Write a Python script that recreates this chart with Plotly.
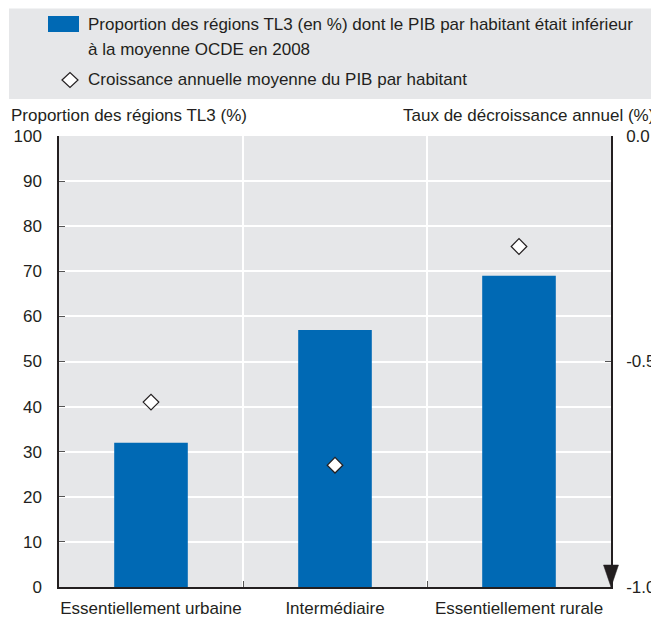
import plotly.graph_objects as go

categories = ["Essentiellement urbaine", "Intermédiaire", "Essentiellement rurale"]
share_below_avg = [32, 57, 69]          # % of TL3 regions, left axis
gdp_growth = [-0.59, -0.73, -0.245]     # annual avg GDP per capita growth (%), right axis
left_ticks = [0, 10, 20, 30, 40, 50, 60, 70, 80, 90, 100]
right_ticks = [0.0, -0.5, -1.0]
right_tick_labels = ["0.0", "-0.5", "-1.0"]

legend_bar_lines = ["Proportion des régions TL3 (en %) dont le PIB par habitant était inférieur",
                    "à la moyenne OCDE en 2008"]
legend_dia = "Croissance annuelle moyenne du PIB par habitant"
left_title = "Proportion des régions TL3 (%)"
right_title = "Taux de décroissance annuel (%)"

# page body has an 8px margin: the figure is drawn at (8, 8) in the window
OFF = 8
W, H = 659 - OFF, 621 - OFF
ML, MR, MT, MB = 59 - OFF, 48, 136 - OFF, 34
PW, PH = W - ML - MR, H - MT - MB

def px(x):
    """window x (reference pixels) -> paper x"""
    return (x - OFF - ML) / PW

def py(y):
    """window y (reference pixels) -> paper y"""
    return (H - MB - (y - OFF)) / PH

FONT = "Liberation Sans Narrow, Arial Narrow, Liberation Sans, sans-serif"
FS = 17
BLUE = "#0069b4"
GRAY = "#e6e7e9"
DARK = "#231f20"

fig = go.Figure()
fig.add_trace(go.Bar(x=categories, y=share_below_avg, marker_color=BLUE,
                     marker_line_width=0, showlegend=False, yaxis="y"))
fig.add_trace(go.Scatter(x=categories, y=gdp_growth, mode="markers", yaxis="y2",
                         marker=dict(symbol="diamond", size=12, color="white",
                                     line=dict(color=DARK, width=1.2)),
                         showlegend=False))

shapes = [
    dict(type="rect", xref="paper", yref="paper", x0=px(9), x1=px(662), y0=py(8.5), y1=py(99),
         fillcolor=GRAY, line_width=0, layer="below"),
    dict(type="rect", xref="paper", yref="paper", x0=px(48), x1=px(79), y0=py(16), y1=py(32),
         fillcolor=BLUE, line_width=0),
    dict(type="path", xref="paper", yref="paper",
         path=f"M {px(62)} {py(80)} L {px(70)} {py(72.5)} L {px(78)} {py(80)} L {px(70)} {py(87.5)} Z",
         fillcolor="white", line=dict(color=DARK, width=1.2)),
    dict(type="path", xref="paper", yref="paper",
         path=f"M {px(603.5)} {py(565)} L {px(618.5)} {py(565)} L {px(611)} {py(587)} Z",
         fillcolor=DARK, line=dict(color=DARK, width=0.5)),
]

annotations = []
for i, line in enumerate(legend_bar_lines):
    annotations.append(dict(text=line, xref="paper", yref="paper", x=px(86), y=py(24 + 25 * i),
                            xanchor="left", yanchor="middle", showarrow=False,
                            font=dict(family=FONT, size=FS, color=DARK)))
annotations += [
    dict(text=legend_dia, xref="paper", yref="paper", x=px(86), y=py(80), xanchor="left", yanchor="middle",
         showarrow=False, font=dict(family=FONT, size=FS, color=DARK)),
    dict(text=left_title, xref="paper", yref="paper", x=px(9), y=py(116), xanchor="left", yanchor="middle",
         showarrow=False, font=dict(family=FONT, size=FS, color=DARK)),
    dict(text=right_title, xref="paper", yref="paper", x=px(656), y=py(116), xanchor="right", yanchor="middle",
         showarrow=False, font=dict(family=FONT, size=FS, color=DARK)),
]

fig.update_layout(
    width=W, height=H,
    margin=dict(l=ML, r=MR, t=MT, b=MB, pad=0),
    paper_bgcolor="white", plot_bgcolor=GRAY,
    font=dict(family=FONT, size=FS, color=DARK),
    bargap=0.6,
    shapes=shapes, annotations=annotations,
    xaxis=dict(type="category", tickson="boundaries", ticks="inside", ticklen=6, tickcolor="#555",
               tickangle=0, automargin=False, ticklabelstandoff=5,
               showgrid=True, gridcolor="white", gridwidth=1.5,
               showline=True, linecolor=DARK, linewidth=1.5, tickfont=dict(size=FS, color=DARK)),
    yaxis=dict(range=[0, 100], tickvals=left_ticks, ticks="inside", ticklen=6, tickcolor="#555",
               automargin=False,
               showgrid=True, gridcolor="white", gridwidth=1.5, zeroline=False,
               showline=True, linecolor=DARK, linewidth=1.5, ticklabelstandoff=12,
               tickfont=dict(size=FS, color=DARK)),
    yaxis2=dict(range=[-1, 0], overlaying="y", side="right", tickvals=right_ticks,
                ticktext=right_tick_labels, automargin=False,
                ticks="inside", ticklen=6, tickcolor="#555", showgrid=False, zeroline=False,
                showline=True, linecolor=DARK, linewidth=1.5, ticklabelstandoff=10,
                tickfont=dict(size=FS, color=DARK)),
)

fig.write_html("out.html")
